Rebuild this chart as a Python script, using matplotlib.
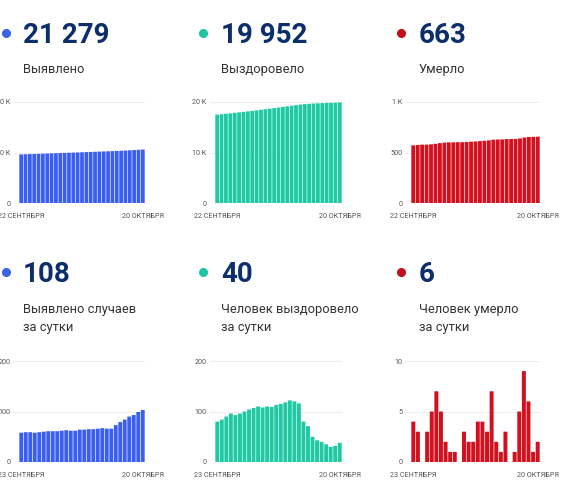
import matplotlib
import matplotlib.pyplot as plt
from matplotlib.lines import Line2D

matplotlib.rcParams['font.family'] = ['Roboto', 'DejaVu Sans']

W, H = 566, 483

# cumulative values, 22 Sep - 20 Oct
cases_total = [19242, 19300, 19359, 19418, 19476, 19535, 19595, 19656, 19717,
               19778, 19840, 19903, 19965, 20027, 20091, 20155, 20220, 20285,
               20351, 20418, 20484, 20550, 20623, 20702, 20786, 20876, 20969,
               21068, 21171]
recovered_total = [17502, 17582, 17666, 17756, 17852, 17945, 18041, 18141, 18245,
                   18352, 18462, 18570, 18680, 18789, 18902, 19017, 19135, 19257,
                   19377, 19493, 19573, 19644, 19694, 19737, 19777, 19812, 19842,
                   19874, 19912]
deaths_total = [571, 575, 578, 578, 581, 586, 593, 598, 600, 601, 602, 602, 605,
                607, 609, 613, 617, 620, 627, 629, 630, 633, 633, 634, 639, 648,
                654, 655, 657]

# daily values, 23 Sep - 20 Oct
cases_day = [58, 59, 59, 58, 59, 60, 61, 61, 61, 62, 63, 62, 62, 64, 64, 65,
             65, 66, 67, 66, 66, 73, 79, 84, 90, 93, 99, 103]
recovered_day = [80, 84, 90, 96, 93, 96, 100, 104, 107, 110, 108, 110, 109, 113,
                 115, 118, 122, 120, 116, 80, 71, 50, 43, 40, 35, 30, 32, 38]
deaths_day = [4, 3, 0, 3, 5, 7, 5, 2, 1, 1, 0, 3, 2, 2, 4, 4, 3, 7, 2, 1, 3, 0,
              1, 5, 9, 6, 1, 2]

headline = ['21 279', '19 952', '663', '108', '40', '6']
captions = [['Выявлено'], ['Выздоровело'], ['Умерло'],
            ['Выявлено случаев', 'за сутки'], ['Человек выздоровело', 'за сутки'],
            ['Человек умерло', 'за сутки']]
first_day = ['22 СЕНТЯБРЯ', '22 СЕНТЯБРЯ', '22 СЕНТЯБРЯ',
             '23 СЕНТЯБРЯ', '23 СЕНТЯБРЯ', '23 СЕНТЯБРЯ']
last_day = '20 ОКТЯБРЯ'
yticks = [[0, 20000, 40000], [0, 10000, 20000], [0, 500, 1000],
          [0, 100, 200], [0, 100, 200], [0, 5, 10]]
ylabels = [['0', '20 K', '40 K'], ['0', '10 K', '20 K'], ['0', '500', '1 K'],
           ['0', '100', '200'], ['0', '100', '200'], ['0', '5', '10']]

series = [cases_total, recovered_total, deaths_total,
          cases_day, recovered_day, deaths_day]
colors = ['#3a5ef0', '#1ec9a3', '#d2101e'] * 2
dot_colors = ['#3b63e3', '#20c4a4', '#c0121d'] * 2

# pixel layout: (dot x, text x, bar start, bar end) per column
cols = [(6, 23, 19, 145), (203, 221, 215, 342), (401, 419, 411, 540)]
rows = [dict(dot=33, num=43, cap=73, top=102, bottom=203),
        dict(dot=272, num=282, cap=313, top=361, bottom=462)]

fig = plt.figure(figsize=(W / 100, H / 100), dpi=100)
fig.patch.set_facecolor('white')

for i, vals in enumerate(series):
    r = rows[i // 3]
    dx, tx, b0, b1 = cols[i % 3]

    fig.add_artist(Line2D([dx / W], [1 - r['dot'] / H], marker='o', markersize=5.5,
                          color=dot_colors[i], transform=fig.transFigure))
    fig.text(tx / W, 1 - r['num'] / H, headline[i], fontsize=20, fontweight='bold',
             color='#0c2f6c', va='baseline', ha='left')
    for k, line in enumerate(captions[i]):
        fig.text(tx / W, 1 - (r['cap'] + 18 * k) / H, line, fontsize=9.3,
                 color='#333333', va='baseline', ha='left')

    n = len(vals)
    pad_px = 5.5
    left = b0 - pad_px
    ax = fig.add_axes([left / W, 1 - r['bottom'] / H, (b1 - left) / W,
                       (r['bottom'] - r['top']) / H])
    bars = ax.bar(range(n), vals, width=0.86, color=colors[i], linewidth=0)
    for b in bars:
        b.set_snap(False)
    step = (b1 - b0) / n
    ax.set_xlim(-0.5 - pad_px / step, n - 0.5)
    ax.set_ylim(0, yticks[i][-1])
    ax.set_yticks(yticks[i])
    ax.set_yticklabels(ylabels[i])
    ax.set_xticks([0, n - 1])
    ax.set_xticklabels([first_day[i], last_day])
    ax.tick_params(length=0, labelsize=5.2, labelcolor='#555555')
    ax.tick_params(axis='x', pad=7)
    ax.tick_params(axis='y', pad=2)
    ax.grid(axis='y', color='#ececec', linewidth=0.7)
    ax.set_axisbelow(True)
    for s in ax.spines.values():
        s.set_visible(False)

fig.savefig('out.png', dpi=100)
